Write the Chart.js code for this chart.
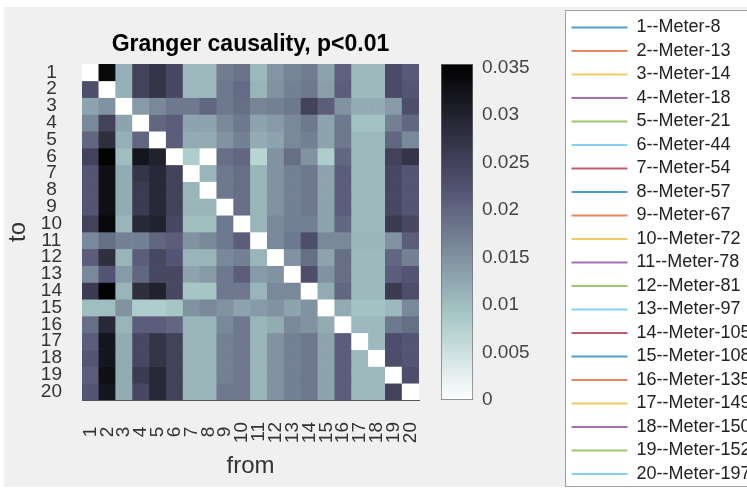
<!DOCTYPE html>
<html>
<head>
<meta charset="utf-8">
<script src="https://cdn.jsdelivr.net/npm/chart.js@4.4.1/dist/chart.umd.min.js"></script>
<style>
html, body { margin:0; padding:0; background:#fff; overflow:hidden; width:747px; height:488px; }
#fig { position:absolute; left:4px; top:7px; width:743px; height:480px; background:#f0f0f0; }
#hm, #cb, #lg { position:absolute; top:0; }
#hm { left:0; }
#cb { left:430px; }
#lgbox { position:absolute; left:565px; top:10px; width:200px; height:475px; background:#fff; border:1px solid #a0a0a0; }
#lg { left:566px; top:11px; }
</style>
</head>
<body>
<div id="fig"></div>
<canvas id="hm" width="440" height="488"></canvas>
<canvas id="cb" width="125" height="488"></canvas>
<div id="lgbox"></div>
<canvas id="lg" width="181" height="474"></canvas>
<script>
// axis labels
var fromLabels = ['1','2','3','4','5','6','7','8','9','10','11','12','13','14','15','16','17','18','19','20'];
var toLabels = fromLabels.slice();
var meterNames = ['1--Meter-8','2--Meter-13','3--Meter-14','4--Meter-18','5--Meter-21','6--Meter-44','7--Meter-54',
    '8--Meter-57','9--Meter-67','10--Meter-72','11--Meter-78','12--Meter-81','13--Meter-97','14--Meter-105',
    '15--Meter-108','16--Meter-135','17--Meter-149','18--Meter-150','19--Meter-152','20--Meter-197'];
var cbTicks = [0, 0.005, 0.01, 0.015, 0.02, 0.025, 0.03, 0.035];
var cmax = 0.0354;

// granger values, one row per "to", columns are "from"
var gc = [
 [0,0.034,0.0115,0.025,0.027,0.024,0.0105,0.0105,0.0175,0.0185,0.0105,0.0145,0.0165,0.0175,0.013,0.0205,0.0105,0.0105,0.0235,0.0215],
 [0.023,0,0.0115,0.025,0.027,0.024,0.0105,0.0105,0.018,0.0195,0.011,0.015,0.017,0.018,0.0135,0.021,0.0105,0.0105,0.0235,0.022],
 [0.013,0.015,0,0.014,0.016,0.018,0.018,0.020,0.018,0.019,0.0165,0.017,0.018,0.025,0.021,0.015,0.012,0.012,0.014,0.023],
 [0.016,0.025,0.013,0,0.020,0.021,0.013,0.013,0.016,0.018,0.013,0.014,0.016,0.018,0.013,0.018,0.0095,0.0095,0.017,0.020],
 [0.020,0.028,0.0115,0.020,0,0.021,0.012,0.012,0.015,0.017,0.012,0.013,0.016,0.017,0.013,0.018,0.0105,0.0105,0.020,0.016],
 [0.025,0.035,0.010,0.032,0.030,0,0.008,0,0.019,0.020,0.007,0.015,0.019,0.015,0.008,0.020,0.0105,0.0105,0.025,0.027],
 [0.022,0.033,0.012,0.027,0.029,0.025,0,0.011,0.018,0.019,0.011,0.015,0.017,0.018,0.013,0.021,0.0105,0.0105,0.024,0.022],
 [0.022,0.033,0.012,0.026,0.029,0.025,0.011,0,0.018,0.019,0.011,0.015,0.017,0.018,0.013,0.021,0.0105,0.0105,0.024,0.022],
 [0.022,0.033,0.012,0.026,0.029,0.025,0.011,0.011,0,0.019,0.011,0.015,0.017,0.018,0.013,0.021,0.0105,0.0105,0.024,0.022],
 [0.025,0.034,0.011,0.029,0.030,0.024,0.010,0.010,0.018,0,0.011,0.016,0.017,0.017,0.013,0.020,0.0105,0.0105,0.026,0.024],
 [0.016,0.019,0.017,0.017,0.020,0.021,0.015,0.016,0.018,0.021,0,0.016,0.018,0.023,0.016,0.016,0.011,0.011,0.015,0.021],
 [0.021,0.028,0.011,0.021,0.024,0.022,0.011,0.011,0.016,0.017,0.011,0,0.015,0.019,0.013,0.019,0.0105,0.0105,0.020,0.017],
 [0.016,0.022,0.014,0.020,0.024,0.024,0.013,0.014,0.018,0.021,0.014,0.015,0,0.023,0.015,0.019,0.0105,0.0105,0.021,0.022],
 [0.026,0.035,0.011,0.028,0.030,0.024,0.009,0.009,0.018,0.018,0.011,0.016,0.016,0,0.012,0.020,0.0105,0.0105,0.026,0.023],
 [0.010,0.010,0.015,0.008,0.008,0.009,0.015,0.016,0.015,0.013,0.014,0.015,0.013,0.015,0,0.012,0.0095,0.0095,0.0105,0.016],
 [0.019,0.029,0.011,0.021,0.021,0.020,0.011,0.011,0.016,0.018,0.011,0.012,0.016,0.015,0.012,0,0.0105,0.0105,0.018,0.019],
 [0.021,0.032,0.012,0.024,0.027,0.025,0.011,0.011,0.017,0.018,0.011,0.015,0.017,0.018,0.013,0.021,0,0.0105,0.023,0.022],
 [0.022,0.032,0.012,0.024,0.027,0.025,0.011,0.011,0.017,0.018,0.011,0.015,0.017,0.018,0.013,0.021,0.0105,0,0.023,0.022],
 [0.021,0.033,0.012,0.026,0.029,0.025,0.011,0.011,0.017,0.018,0.011,0.015,0.017,0.018,0.013,0.021,0.0105,0.0105,0,0.023],
 [0.022,0.032,0.012,0.024,0.029,0.025,0.011,0.011,0.018,0.018,0.011,0.015,0.017,0.018,0.013,0.021,0.0105,0.0105,0.025,0]
];

var lineColors = ['#0072BD','#D95319','#EDB120','#7E2F8E','#77AC30','#4DBEEE','#A2142F'];
var FONT = 'Liberation Sans, Arial, Helvetica, sans-serif';
var TXT = '#333';

// flipped matlab bone colormap
function boneColor(v) {
    var t = 1 - Math.min(Math.max(v / cmax, 0), 1);
    var hr = Math.min(1, t / 0.375);
    var hg = Math.min(1, Math.max(0, (t - 0.375) / 0.375));
    var hb = Math.min(1, Math.max(0, (t - 0.75) / 0.25));
    var r = (7 * t + hb) / 8, g = (7 * t + hg) / 8, b = (7 * t + hr) / 8;
    return 'rgb(' + Math.round(r * 255) + ',' + Math.round(g * 255) + ',' + Math.round(b * 255) + ')';
}

// heatmap: one stacked bar dataset per row
var rows = gc.map(function (row, i) {
    return {
        label: 'to ' + toLabels[i],
        data: row.map(function () { return 1; }),
        backgroundColor: row.map(boneColor),
        borderWidth: 0,
        barPercentage: 1,
        categoryPercentage: 1
    };
});

new Chart(document.getElementById('hm'), {
    type: 'bar',
    data: { labels: fromLabels, datasets: rows },
    options: {
        responsive: false,
        animation: false,
        events: [],
        layout: { padding: { left: 0, right: 21, top: 0, bottom: 0 } },
        plugins: {
            legend: { display: false },
            tooltip: { enabled: false },
            title: {
                display: true,
                text: 'Granger causality, p<0.01',
                color: '#000',
                fullSize: false,
                font: { family: FONT, size: 23, weight: 'bold' },
                padding: { top: 31, bottom: 5.4 }
            }
        },
        scales: {
            x: {
                stacked: true,
                grid: { display: false, drawTicks: false },
                border: { display: true, color: '#555' },
                ticks: {
                    autoSkip: false, minRotation: 90, maxRotation: 90, padding: 22,
                    color: TXT, font: { family: FONT, size: 19 },
                    callback: function (v, i) {
                        var s = fromLabels[i];
                        return s.length < 2 ? s + '\u2005' : s;
                    }
                },
                title: { display: true, text: 'from', color: TXT, font: { family: FONT, size: 24 }, padding: { top: 0, bottom: 7 } },
                afterFit: function (s) {
                    s.height = 88;
                    s.paddingLeft = 0;
                    s.paddingRight = 0;
                }
            },
            y: {
                type: 'linear', min: 0, max: 20, reverse: true, stacked: true,
                grid: { display: false, drawTicks: false },
                border: { display: true, color: '#555' },
                afterBuildTicks: function (s) {
                    s.ticks = toLabels.map(function (_, i) { return { value: i + 0.5 }; });
                },
                ticks: {
                    autoSkip: false, crossAlign: 'center', padding: 20,
                    color: TXT, font: { family: FONT, size: 19 },
                    callback: function (v) { return toLabels[Math.floor(v)]; }
                },
                title: { display: true, text: 'to', color: TXT, font: { family: FONT, size: 24 }, padding: { top: 4, bottom: 0 } },
                afterFit: function (s) { s.width = 82; }
            }
        }
    }
});

// colorbar
new Chart(document.getElementById('cb'), {
    type: 'bar',
    data: {
        labels: [''],
        datasets: [{
            data: [cmax],
            backgroundColor: function (c) {
                var a = c.chart.chartArea;
                if (!a) return '#fff';
                var g = c.chart.ctx.createLinearGradient(0, a.bottom, 0, a.top);
                for (var k = 0; k <= 40; k++) g.addColorStop(k / 40, boneColor(k / 40 * cmax));
                return g;
            },
            borderColor: '#6e6e6e',
            borderWidth: 1,
            borderSkipped: false,
            barPercentage: 1,
            categoryPercentage: 1
        }]
    },
    options: {
        responsive: false,
        animation: false,
        events: [],
        layout: { padding: { left: 11, right: 0, top: 64, bottom: 88 } },
        plugins: { legend: { display: false }, tooltip: { enabled: false } },
        scales: {
            x: { display: false },
            y: {
                position: 'right', min: 0, max: cmax,
                grid: { display: false, drawTicks: false },
                border: { display: false },
                afterBuildTicks: function (s) {
                    s.ticks = cbTicks.map(function (v) { return { value: v }; });
                },
                ticks: {
                    padding: 9, color: '#444', font: { family: FONT, size: 19 },
                    callback: function (v) { return String(+v.toFixed(4)); }
                },
                afterFit: function (s) { s.width = 82; }
            }
        }
    }
});

// legend
new Chart(document.getElementById('lg'), {
    type: 'line',
    data: {
        labels: [],
        datasets: meterNames.map(function (n, i) {
            return { label: n, data: [], borderColor: lineColors[i % 7] + 'B0', backgroundColor: lineColors[i % 7] + 'B0', borderWidth: 2, pointStyle: 'line' };
        })
    },
    options: {
        responsive: false,
        animation: false,
        events: [],
        layout: { padding: { top: 2 } },
        scales: { x: { display: false }, y: { display: false } },
        plugins: {
            tooltip: { enabled: false },
            legend: {
                position: 'top', align: 'start', maxHeight: 2000,
                labels: {
                    usePointStyle: true, pointStyle: 'line', pointStyleWidth: 56,
                    padding: 5.5, color: '#222', font: { family: FONT, size: 18 }
                }
            }
        }
    }
});
</script>
</body>
</html>
